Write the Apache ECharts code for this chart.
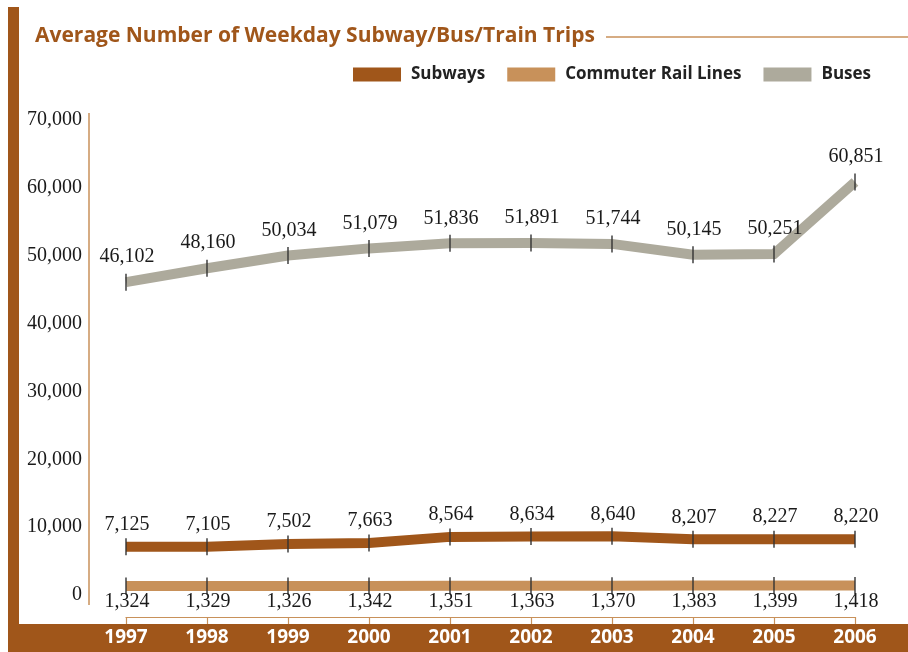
<!DOCTYPE html>
<html>
<head>
<meta charset="utf-8">
<script src="https://cdn.jsdelivr.net/npm/echarts@6/dist/echarts.min.js"></script>
<style>
  html, body { margin: 0; padding: 0; background: #fff; }
  #chart { width: 908px; height: 652px; }
</style>
</head>
<body>
<div id="chart"></div>
<script>
  // data
  var years = ['1997', '1998', '1999', '2000', '2001', '2002', '2003', '2004', '2005', '2006'];
  var subways = [7125, 7105, 7502, 7663, 8564, 8634, 8640, 8207, 8227, 8220];
  var commuter = [1324, 1329, 1326, 1342, 1351, 1363, 1370, 1383, 1399, 1418];
  var buses = [46102, 48160, 50034, 51079, 51836, 51891, 51744, 50145, 50251, 60851];
  var yTicks = [0, 10000, 20000, 30000, 40000, 50000, 60000, 70000];

  var brown = '#a0561a';
  var tan = '#c8915a';
  var grey = '#adaa9c';
  var serif = '"Liberation Serif", "Times New Roman", serif';
  var sans = '"Open Sans", sans-serif';

  function fmt(v) {
    return String(v).replace(/\B(?=(\d{3})+(?!\d))/g, ',');
  }

  function lineSeries(name, data, color) {
    return {
      name: name,
      type: 'line',
      data: data,
      symbol: 'none',
      z: 2,
      lineStyle: { color: color, width: 10, cap: 'butt', join: 'miter' },
      itemStyle: { color: color }
    };
  }

  // little vertical ticks on every point, they also carry the value labels
  function tickSeries(data, dy) {
    return {
      type: 'scatter',
      data: data,
      symbol: 'rect',
      symbolSize: [1.4, 17],
      itemStyle: { color: '#333', opacity: 1 },
      silent: true,
      z: 3,
      label: {
        show: true,
        position: 'inside',
        offset: [1, dy],
        color: '#1a1a1a',
        opacity: 1,
        textBorderWidth: 0,
        fontFamily: serif,
        fontSize: 20,
        formatter: function (p) { return fmt(p.value); }
      }
    };
  }

  var chart = echarts.init(document.getElementById('chart'));
  chart.setOption({
    backgroundColor: '#fff',
    animation: false,
    title: {
      text: 'Average Number of Weekday Subway/Bus/Train Trips',
      left: 30,
      top: 21,
      textStyle: {
        color: brown,
        fontFamily: sans,
        fontWeight: 'bold',
        fontSize: 21
      }
    },
    legend: {
      data: ['Subways', 'Commuter Rail Lines', 'Buses'],
      right: 32,
      top: 61,
      icon: 'rect',
      itemWidth: 48,
      itemHeight: 14,
      itemGap: 22,
      textStyle: {
        color: '#222',
        fontFamily: sans,
        fontWeight: 'bold',
        fontSize: 17,
        padding: [0, 0, 0, 5]
      }
    },
    grid: { left: 126, right: 53, top: 120, bottom: 57 },
    xAxis: {
      type: 'category',
      data: years,
      boundaryGap: false,
      offset: 22,
      z: 5,
      axisLine: { onZero: false, lineStyle: { color: tan, width: 1.2 } },
      axisTick: { show: true, length: 7, lineStyle: { color: tan, width: 1.2 } },
      axisLabel: {
        margin: 11,
        color: '#fff',
        fontFamily: sans,
        fontWeight: 'bold',
        fontSize: 19
      },
      splitLine: { show: false }
    },
    yAxis: {
      type: 'value',
      min: 0,
      max: 70000,
      interval: 10000,
      offset: 37,
      axisLine: { show: false },
      axisTick: { show: false },
      splitLine: { show: false },
      axisLabel: {
        margin: 7,
        color: '#1a1a1a',
        fontFamily: serif,
        fontSize: 20,
        formatter: function (v) { return yTicks.indexOf(v) >= 0 ? fmt(v) : ''; }
      }
    },
    graphic: [
      // left brown bar
      { type: 'rect', z: -10, shape: { x: 8, y: 7, width: 11, height: 645 }, style: { fill: brown } },
      // bottom band behind the years
      { type: 'rect', z: -10, shape: { x: 8, y: 624, width: 900, height: 28 }, style: { fill: brown } },
      // rule after the title
      { type: 'line', z: -10, shape: { x1: 606, y1: 37, x2: 908, y2: 37 }, style: { stroke: tan, lineWidth: 1.5 } },
      // vertical value-axis rule, a bit longer than the plot
      { type: 'line', z: -10, shape: { x1: 89, y1: 113, x2: 89, y2: 605 }, style: { stroke: tan, lineWidth: 1.5 } }
    ],
    series: [
      lineSeries('Subways', subways, brown),
      lineSeries('Commuter Rail Lines', commuter, tan),
      lineSeries('Buses', buses, grey),
      tickSeries(subways, -22),
      tickSeries(commuter, 16),
      tickSeries(buses, -25)
    ]
  });
</script>
</body>
</html>
